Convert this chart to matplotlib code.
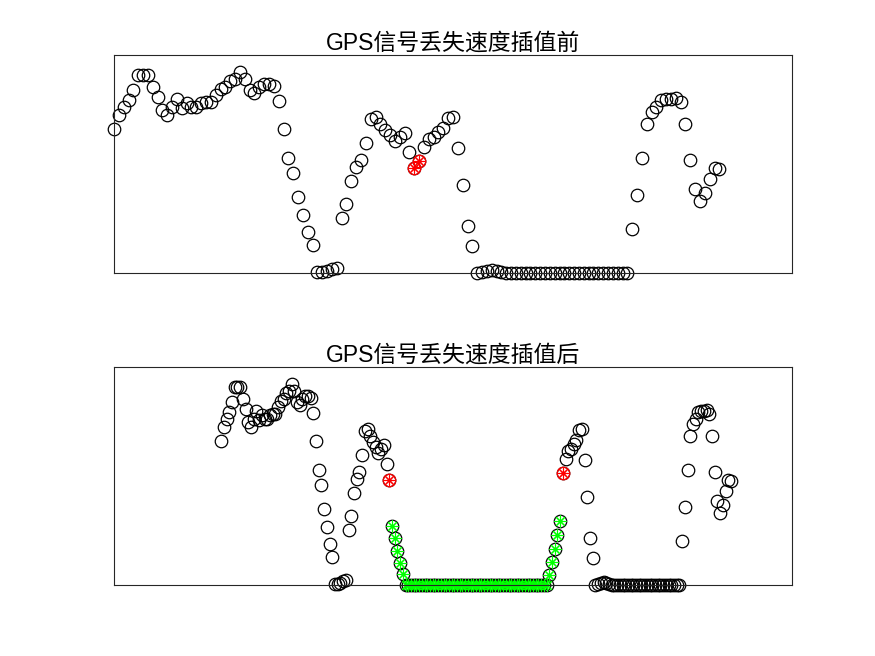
import numpy as np
import matplotlib
matplotlib.use("Agg")
import matplotlib.pyplot as plt

# ---- data (speed, arbitrary units) ----
speed_before = [14.4, 15.8, 16.6, 17.3, 18.3, 19.8, 19.8, 19.8, 18.6, 17.6,
                16.3, 15.8, 16.6, 17.4, 16.5, 17.0, 16.6, 16.6, 17.0, 17.1,
                17.1, 17.8, 18.4, 18.6, 19.2, 19.4, 20.1, 19.4, 18.3, 18.0,
                18.6, 18.9, 18.9, 18.7, 17.2, 14.4, 11.5, 10.0, 7.6, 5.8,
                4.1, 2.8, 0.1, 0.1, 0.2, 0.4, 0.5, 5.5, 6.9, 9.2,
                10.6, 11.3, 13.0, 15.4, 15.6, 14.9, 14.3, 13.8, 13.2, 13.6,
                14.0, 12.1, 10.5, 11.2, 12.6, 13.4, 13.6, 14.1, 14.5, 15.5,
                15.6, 12.5, 8.8, 4.7, 2.7, 0.05, 0.1, 0.2, 0.3, 0.25,
                0.1, 0.0, 0.0, 0.0, 0.0, 0.0, 0.0, 0.0, 0.0, 0.0,
                0.0, 0.0, 0.0, 0.0, 0.0, 0.0, 0.0, 0.0, 0.0, 0.0,
                0.0, 0.0, 0.0, 0.0, 0.0, 0.0, 0.0, 4.4, 7.8, 11.5,
                14.9, 16.1, 16.6, 17.3, 17.4, 17.4, 17.5, 17.1, 14.9, 11.3,
                8.4, 7.2, 8.0, 9.4, 10.5, 10.4]

lost_idx = [62, 63]          # samples on both sides of the GPS outage
gap_len = 63                 # number of interpolated samples

speed_interp = [5.9, 4.7, 3.4, 2.2, 1.1,
                0.0, 0.0, 0.0, 0.0, 0.0, 0.0, 0.0, 0.0, 0.0, 0.0,
                0.0, 0.0, 0.0, 0.0, 0.0, 0.0, 0.0, 0.0, 0.0, 0.0,
                0.0, 0.0, 0.0, 0.0, 0.0, 0.0, 0.0, 0.0, 0.0, 0.0,
                0.0, 0.0, 0.0, 0.0, 0.0, 0.0, 0.0, 0.0, 0.0, 0.0,
                0.0, 0.0, 0.0, 0.0, 0.0, 0.0, 0.0, 0.0, 0.0, 0.0,
                0.0, 0.0, 0.0,
                1.0, 2.3, 3.6, 5.0, 6.4]

titles = ["GPS信号丢失速度插值前", "GPS信号丢失速度插值后"]

# ---- derived positions ----
speed_before = np.array(speed_before)
n = len(speed_before)
x_top = np.arange(n)
x_bot = np.where(x_top <= lost_idx[0], x_top, x_top + gap_len)
x_interp = lost_idx[0] + 1 + np.arange(len(speed_interp))

fig = plt.figure(figsize=(8.75, 6.56), dpi=100)
W, H = 875, 656
def pos(l, t, r, b):
    return [l / W, 1 - b / H, (r - l) / W, (b - t) / H]

ax1 = fig.add_axes(pos(114, 55, 792, 273))
ax2 = fig.add_axes(pos(114, 367, 792, 585))

ms = 9
circ = dict(marker='o', linestyle='none', markersize=ms, markerfacecolor='none',
            markeredgewidth=0.9, clip_on=False)
ast = dict(marker=(8, 2, 0), linestyle='none', markersize=ms, markeredgewidth=0.8,
           clip_on=False)

# top
ax1.plot(x_top, speed_before, markeredgecolor='black', **circ)
ax1.plot(x_top[lost_idx], speed_before[lost_idx], markeredgecolor='red', **circ)
ax1.plot(x_top[lost_idx], speed_before[lost_idx], markeredgecolor='red', color='red', **ast)
ax1.set_xlim(0, 140)
ax1.set_ylim(0, 21.8)

# bottom
ax2.plot(x_bot, speed_before, markeredgecolor='black', **circ)
ax2.plot(x_interp, speed_interp, markeredgecolor='black', **circ)
ax2.plot(x_interp, speed_interp, markeredgecolor='#00ff00', color='#00ff00', **ast)
ax2.plot(x_bot[lost_idx], speed_before[lost_idx], markeredgecolor='red', **circ)
ax2.plot(x_bot[lost_idx], speed_before[lost_idx], markeredgecolor='red', color='red', **ast)
ax2.set_xlim(-39.5, 210.5)
ax2.set_ylim(0, 21.8)

for ax, t in zip([ax1, ax2], titles):
    ax.set_xticks([])
    ax.set_yticks([])
    for s in ax.spines.values():
        s.set_color('#262626')
        s.set_linewidth(0.8)
    ax.set_title(t, family=['Liberation Sans', 'Noto Sans CJK SC'], fontsize=16.5,
                 pad=4, color='black')

fig.savefig("out.png", dpi=100, facecolor='white')
